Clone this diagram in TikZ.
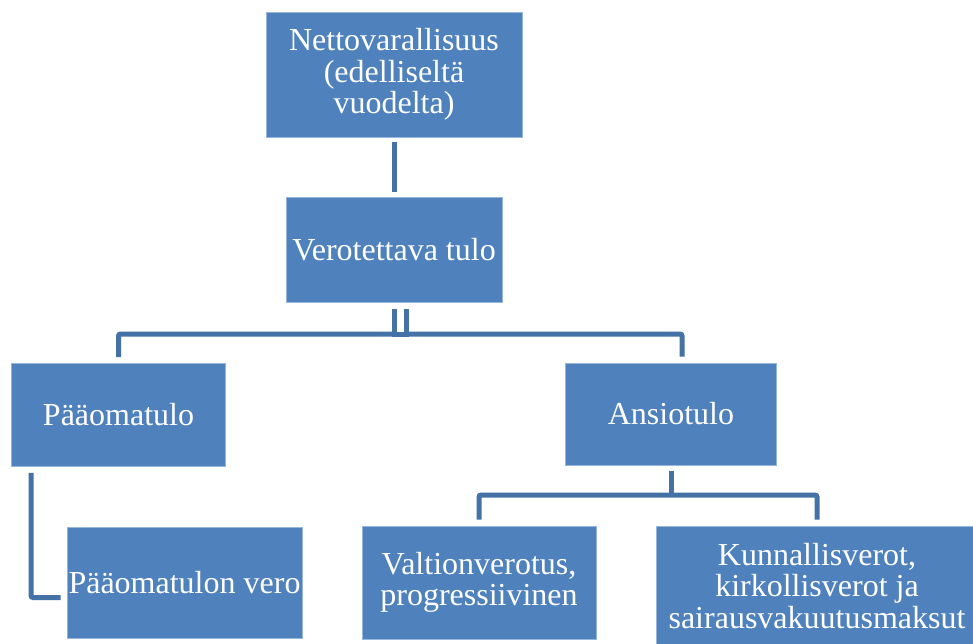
\documentclass[tikz,border=0pt]{standalone}
\usepackage{fontspec}
\setmainfont{Liberation Serif}
\usepackage{tikz}
\definecolor{laatikko}{RGB}{79,129,189}
\definecolor{viiva}{RGB}{68,114,166}
\definecolor{reuna}{RGB}{150,182,220}

\begin{document}
\begin{tikzpicture}[x=1pt, y=-1pt,
  box/.style={draw=reuna, line width=0.8pt, fill=laatikko, text=white, align=center,
    inner sep=0pt, font=\fontsize{32}{31.5}\selectfont},
  link/.style={draw=viiva, line width=5pt, rounded corners=2pt}]
\useasboundingbox (0,0) rectangle (973,644);
\clip (0,0) rectangle (973,644);
\node[box, minimum width=256pt, minimum height=125pt](netto) at (394,74.5) {Nettovarallisuus\\(edelliseltä\\vuodelta)};
\node[box, minimum width=216pt, minimum height=105pt](vero) at (394,250) {Verotettava tulo};
\node[box, minimum width=214pt, minimum height=103pt](paa) at (118.5,415) {Pääomatulo};
\node[box, minimum width=211pt, minimum height=102pt](ansio) at (671,414) {Ansiotulo};
\node[box, minimum width=235pt, minimum height=111pt](paavero) at (184.5,582.5) {Pääomatulon vero};
\node[box, minimum width=234pt, minimum height=113pt](valtio) at (479,582.5) {Valtionverotus,\\progressiivinen};
\node[box, minimum width=322pt, minimum height=120pt](kunta) at (817,586) {Kunnallisverot,\\kirkollisverot ja\\sairausvakuutusmaksut};
% haarat
\coordinate (haara) at (394,334);
\coordinate (ansiohaara) at (671,495);
\coordinate (paareuna) at (31,0);
\draw[link, shorten <=5pt, shorten >=5pt] (netto.south) -- (vero.north);
\draw[link, sharp corners, shorten <=6pt] ([xshift=12pt]vero.south) -- ([xshift=12pt]haara) -- (haara);
\draw[link, shorten >=6pt] (haara) -| (paa.north);
\draw[link, sharp corners, shorten <=6pt] (vero.south) -- (haara) -- ([xshift=12pt]haara);
\draw[link, shorten >=6pt] ([xshift=12pt]haara) -| ([xshift=11pt]ansio.north);
\draw[link, shorten <=6pt, shorten >=6pt] (paa.south -| paareuna) |- ([yshift=-15pt]paavero.west);
\draw[link, shorten <=6pt] (ansio.south) -- (ansiohaara);
\draw[link, shorten >=6pt] (ansiohaara) -| (valtio.north);
\draw[link, shorten >=6pt] (ansiohaara) -| (kunta.north);
\end{tikzpicture}
\end{document}
